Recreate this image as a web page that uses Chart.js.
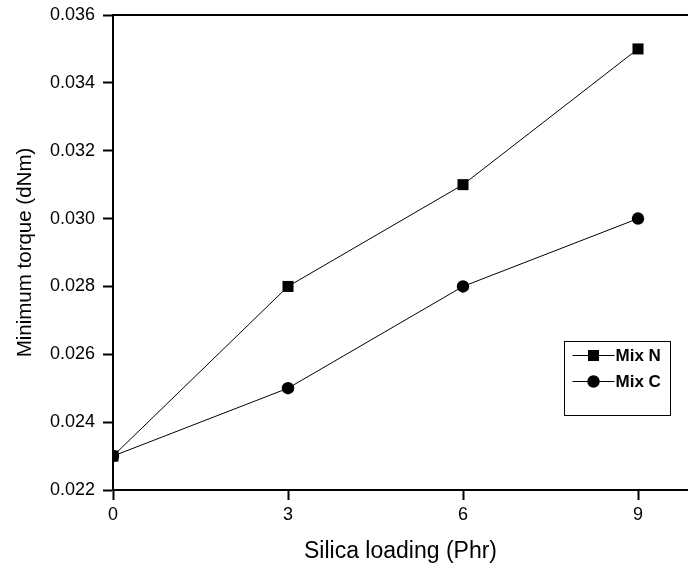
<!DOCTYPE html>
<html>
<head>
<meta charset="utf-8">
<script src="https://cdn.jsdelivr.net/npm/chart.js@4/dist/chart.umd.min.js"></script>
<style>
  html, body { margin: 0; padding: 0; background: #ffffff; overflow: hidden; }
  canvas { display: block; }
</style>
</head>
<body>
<canvas id="c" width="688" height="569"></canvas>
<script>
// ---- data ----
const silicaLoading = [0, 3, 6, 9];
const mixN = [0.023, 0.028, 0.031, 0.035];
const mixC = [0.023, 0.025, 0.028, 0.030];
const seriesLabels = ['Mix N', 'Mix C'];
const xTitle = 'Silica loading (Phr)';
const yTitle = 'Minimum torque (dNm)';

Chart.defaults.font.family = "'Liberation Sans', Arial, sans-serif";
Chart.defaults.color = '#000000';

const toPoints = (xs, ys) => xs.map((x, i) => ({ x: x, y: ys[i] }));

const legendPlugin = {
  id: 'boxLegend',
  afterDraw(chart) {
    const ctx = chart.ctx;
    const a = chart.chartArea;
    const bx = Math.round(a.left + (a.right - a.left) * 0.7843) + 0.5;
    const by = Math.round(a.top + (a.bottom - a.top) * 0.6863) + 0.5;
    const bw = 106, bh = 74;
    ctx.save();
    ctx.fillStyle = '#ffffff';
    ctx.fillRect(bx, by, bw, bh);
    ctx.strokeStyle = '#000000';
    ctx.lineWidth = 1;
    ctx.strokeRect(bx, by, bw, bh);
    chart.data.datasets.forEach((ds, i) => {
      const y = by + 14 + i * 26;
      const x0 = bx + 8, x1 = bx + 50, xm = (x0 + x1) / 2;
      ctx.strokeStyle = ds.borderColor;
      ctx.lineWidth = 1;
      ctx.beginPath();
      ctx.moveTo(x0, y);
      ctx.lineTo(x1, y);
      ctx.stroke();
      ctx.fillStyle = ds.pointBackgroundColor;
      ctx.strokeStyle = ds.pointBorderColor;
      Chart.helpers.drawPoint(ctx, { pointStyle: ds.pointStyle, radius: ds.pointRadius, rotation: 0, borderWidth: 0 }, xm, y);
      ctx.fillStyle = '#000000';
      ctx.font = "bold 17px 'Liberation Sans', Arial, sans-serif";
      ctx.textAlign = 'left';
      ctx.textBaseline = 'middle';
      ctx.fillText(ds.label, x1 + 1, y + 1);
    });
    ctx.restore();
  }
};

const isMajorY = v => Math.round(v * 1000) % 2 === 0;
const isMajorX = v => Math.abs(Math.round(v) % 3) === 0 && Math.abs(v - Math.round(v)) < 1e-6;

new Chart(document.getElementById('c'), {
  type: 'line',
  data: {
    datasets: [
      {
        label: seriesLabels[0],
        data: toPoints(silicaLoading, mixN),
        borderColor: '#000000',
        borderWidth: 1,
        pointStyle: 'rect',
        pointRadius: 7.8,
        pointBackgroundColor: '#000000',
        pointBorderColor: '#000000',
        pointBorderWidth: 0,
        fill: false,
        tension: 0
      },
      {
        label: seriesLabels[1],
        data: toPoints(silicaLoading, mixC),
        borderColor: '#000000',
        borderWidth: 1,
        pointStyle: 'circle',
        pointRadius: 6.2,
        pointBackgroundColor: '#000000',
        pointBorderColor: '#000000',
        pointBorderWidth: 0,
        fill: false,
        tension: 0
      }
    ]
  },
  options: {
    responsive: false,
    animation: false,
    devicePixelRatio: 1,
    layout: { autoPadding: false, padding: { left: 0, right: 0, top: 0, bottom: 0 } },
    plugins: {
      legend: { display: false },
      tooltip: { enabled: false }
    },
    scales: {
      x: {
        type: 'linear',
        position: 'bottom',
        min: 0,
        max: 9.857,
        afterFit(scale) { scale.height = 79; scale.paddingLeft = 0; scale.paddingRight = 0; },
        ticks: {
          stepSize: 1.5,
          includeBounds: false,
          autoSkip: false,
          maxRotation: 0,
          padding: 4,
          font: { size: 18 },
          color: '#000000',
          callback: v => isMajorX(v) ? String(Math.round(v)) : ''
        },
        grid: {
          drawOnChartArea: false,
          tickLength: 10,
          tickWidth: 2,
          tickColor: ctx => (ctx.tick && isMajorX(ctx.tick.value)) ? '#000000' : 'rgba(0,0,0,0)'
        },
        border: { display: true, color: '#000000', width: 2 },
        title: {
          display: true,
          text: xTitle,
          font: { size: 23 },
          color: '#000000',
          padding: { top: 0, bottom: 4 }
        }
      },
      x2: {
        type: 'linear',
        position: 'top',
        min: 0,
        max: 9.857,
        afterFit(scale) { scale.height = 15; scale.paddingLeft = 0; scale.paddingRight = 0; },
        ticks: { display: false },
        grid: { drawOnChartArea: false, drawTicks: false },
        border: { display: true, color: '#000000', width: 2 }
      },
      y: {
        type: 'linear',
        position: 'left',
        min: 0.022,
        max: 0.036,
        afterFit(scale) { scale.width = 113; scale.paddingTop = 0; scale.paddingBottom = 0; },
        ticks: {
          stepSize: 0.001,
          autoSkip: false,
          padding: 8,
          font: { size: 18 },
          color: '#000000',
          callback: v => isMajorY(v) ? v.toFixed(3) : ''
        },
        grid: {
          drawOnChartArea: false,
          tickLength: 10,
          tickWidth: 2,
          tickColor: ctx => (ctx.tick && isMajorY(ctx.tick.value)) ? '#000000' : 'rgba(0,0,0,0)'
        },
        border: { display: true, color: '#000000', width: 2 },
        title: {
          display: true,
          text: yTitle,
          font: { size: 20.5 },
          color: '#000000',
          padding: { top: 13, bottom: 0 }
        }
      }
    }
  },
  plugins: [legendPlugin]
});
</script>
</body>
</html>
